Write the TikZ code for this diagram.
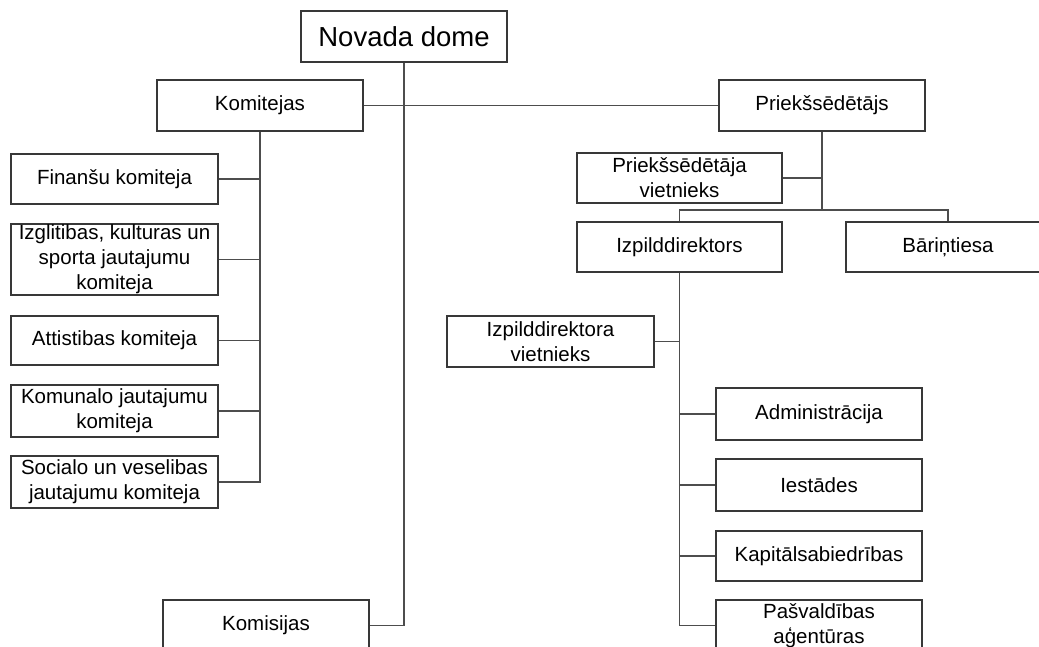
\documentclass[tikz,border=0pt]{standalone}
\usepackage{fontspec}
\setmainfont{Liberation Sans}
\definecolor{boxline}{HTML}{383838}
\definecolor{conline}{HTML}{4D4D4D}
\begin{document}
\begin{tikzpicture}[x=1pt,y=-1pt,
  orgbox/.style={draw=boxline, line width=1.1pt, fill=white, inner sep=0pt,
    align=center, font=\fontsize{20.5}{25}\selectfont},
  wbox/.style={orgbox, minimum width=206pt},
  conn/.style={draw=conline, line width=1.6pt}]
\useasboundingbox (0,0) rectangle (1039,647);
\clip (0,0) rectangle (1039,647);
\fill[white] (0,0) rectangle (1039,647);

\node[wbox, minimum height=51pt, font=\fontsize{27.5}{32}\selectfont] (dome) at (404,36.5) {Novada dome};
\node[wbox, minimum height=51pt] (kom) at (260,105.5) {Komitejas};
\node[wbox, minimum height=51pt] (pr) at (822,105.5) {Priekšsēdētājs};

\node[wbox, minimum width=207pt, minimum height=50pt] (fin) at (114.5,179) {Finanšu komiteja};
\node[wbox, minimum width=207pt, minimum height=71pt] (izg) at (114.5,259.5) {Izglitibas, kulturas un\\sporta jautajumu\\komiteja};
\node[wbox, minimum width=207pt, minimum height=49pt] (att) at (114.5,340.5) {Attistibas komiteja};
\node[wbox, minimum width=207pt, minimum height=52pt] (komu) at (114.5,411) {Komunalo jautajumu\\komiteja};
\node[wbox, minimum width=207pt, minimum height=52pt] (soc) at (114.5,482) {Socialo un veselibas\\jautajumu komiteja};
\node[wbox, minimum height=51pt] (komis) at (266,625.5) {Komisijas};

\node[wbox, minimum width=205pt, minimum height=50pt] (viet) at (679.5,178) {Priekšsēdētāja\\vietnieks};
\node[wbox, minimum width=205pt, minimum height=50pt] (izp) at (679.5,247) {Izpilddirektors};
\node[wbox, minimum width=204pt, minimum height=50pt] (bar) at (948,247) {Bāriņtiesa};
\node[wbox, minimum width=207pt, minimum height=51pt] (izpv) at (550.5,341.5) {Izpilddirektora\\vietnieks};
\node[wbox, minimum height=52pt] (adm) at (819,414) {Administrācija};
\node[wbox, minimum height=52pt] (iest) at (819,485) {Iestādes};
\node[wbox, minimum height=50pt] (kap) at (819,556) {Kapitālsabiedrības};
\node[wbox, minimum height=51pt] (pasv) at (819,625.5) {Pašvaldības\\aģentūras};

\coordinate (pbus) at (822,210);

% main trunk
\draw[conn] (dome.south) |- (komis.east);
\draw[conn] (kom.east) -- (pr.west);
% committees
\draw[conn] (kom.south) |- (soc.east);
\draw[conn] (fin.east) -- (fin.east -| kom.south);
\draw[conn] (izg.east) -- (izg.east -| kom.south);
\draw[conn] (att.east) -- (att.east -| kom.south);
\draw[conn] (komu.east) -- (komu.east -| kom.south);
% chairman
\draw[conn] (pr.south) -- (pbus);
\draw[conn] (viet.east) -- (viet.east -| pr.south);
\draw[conn] (izp.north) |- (pbus) -| (bar.north);
% executive director
\draw[conn] (izp.south) |- (pasv.west);
\draw[conn] (izpv.east) -- (izpv.east -| izp.south);
\draw[conn] (adm.west) -- (adm.west -| izp.south);
\draw[conn] (iest.west) -- (iest.west -| izp.south);
\draw[conn] (kap.west) -- (kap.west -| izp.south);
\end{tikzpicture}
\end{document}
